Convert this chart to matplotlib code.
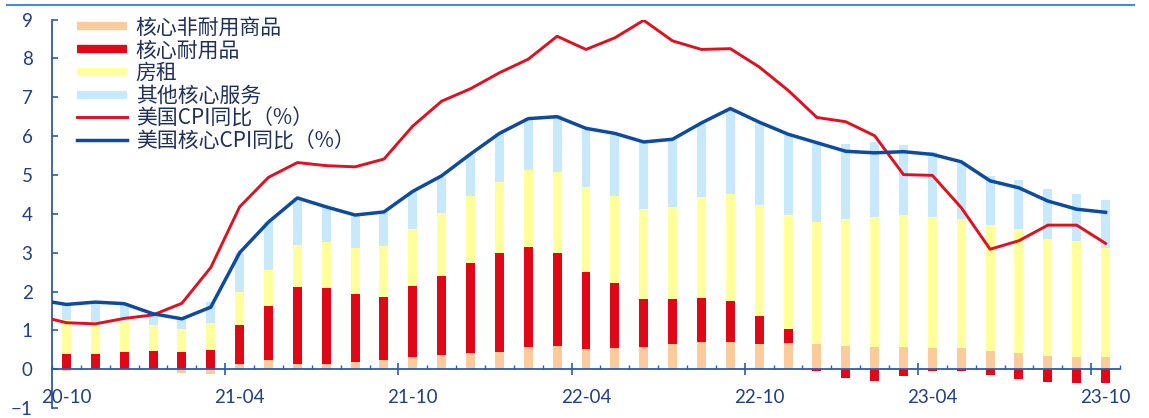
import numpy as np
import matplotlib
matplotlib.use("Agg")
import matplotlib.pyplot as plt
from matplotlib.lines import Line2D

# Month labels (first entry is the month before the first bar, used only by the lines)
months = ["20-09", "20-10", "20-11", "20-12", "21-01", "21-02", "21-03", "21-04",
          "21-05", "21-06", "21-07", "21-08", "21-09", "21-10", "21-11", "21-12",
          "22-01", "22-02", "22-03", "22-04", "22-05", "22-06", "22-07", "22-08",
          "22-09", "22-10", "22-11", "22-12", "23-01", "23-02", "23-03", "23-04",
          "23-05", "23-06", "23-07", "23-08", "23-09", "23-10"]

# Contributions to core CPI YoY (percentage points), 20-10 .. 23-10
nondurable = [-0.05, 0.00, 0.00, 0.00, -0.09, -0.11, 0.13, 0.24, 0.15, 0.15,
              0.18, 0.24, 0.31, 0.37, 0.43, 0.45, 0.58, 0.61, 0.53, 0.56,
              0.57, 0.64, 0.70, 0.70, 0.64, 0.68, 0.65, 0.60, 0.57, 0.57,
              0.55, 0.55, 0.47, 0.43, 0.34, 0.32, 0.32]
durable = [0.40, 0.40, 0.45, 0.46, 0.44, 0.49, 1.00, 1.39, 1.97, 1.95,
           1.76, 1.62, 1.84, 2.04, 2.31, 2.55, 2.57, 2.39, 1.98, 1.65,
           1.23, 1.16, 1.14, 1.06, 0.73, 0.35, -0.03, -0.22, -0.29, -0.16,
           -0.03, -0.03, -0.15, -0.26, -0.32, -0.34, -0.34]
rent = [0.86, 0.83, 0.79, 0.67, 0.61, 0.71, 0.87, 0.92, 1.08, 1.18,
        1.19, 1.31, 1.46, 1.62, 1.72, 1.82, 1.99, 2.08, 2.17, 2.25,
        2.33, 2.38, 2.60, 2.76, 2.87, 2.93, 3.13, 3.27, 3.35, 3.40,
        3.37, 3.32, 3.25, 3.18, 3.01, 2.99, 2.81]
other_services = [0.44, 0.46, 0.41, 0.30, 0.25, 0.53, 1.00, 1.23, 1.20, 0.90,
                  0.84, 0.88, 0.96, 0.92, 1.05, 1.25, 1.33, 1.46, 1.49, 1.56,
                  1.72, 1.71, 1.88, 2.15, 2.10, 2.06, 2.03, 1.92, 1.93, 1.80,
                  1.68, 1.44, 1.25, 1.27, 1.29, 1.19, 1.23]

# Headline and core CPI YoY (%), 20-09 .. 23-10
cpi = [1.38, 1.20, 1.17, 1.31, 1.40, 1.70, 2.62, 4.18, 4.94, 5.32,
       5.24, 5.21, 5.41, 6.26, 6.90, 7.22, 7.63, 7.98, 8.57, 8.23,
       8.53, 8.98, 8.45, 8.23, 8.25, 7.78, 7.18, 6.48, 6.37, 6.01,
       5.01, 4.99, 4.16, 3.09, 3.31, 3.71, 3.71, 3.24]
core_cpi = [1.79, 1.67, 1.73, 1.69, 1.43, 1.30, 1.60, 3.00, 3.79, 4.41,
            4.18, 3.97, 4.05, 4.58, 4.98, 5.54, 6.07, 6.45, 6.50, 6.20,
            6.07, 5.85, 5.92, 6.34, 6.71, 6.36, 6.05, 5.83, 5.61, 5.57,
            5.60, 5.53, 5.34, 4.85, 4.67, 4.33, 4.12, 4.04]

labels = ["核心非耐用商品", "核心耐用品", "房租", "其他核心服务",
          "美国CPI同比（%）", "美国核心CPI同比（%）"]

C_ORANGE = "#FBCB9B"
C_RED = "#E00816"
C_YELLOW = "#FFFF9C"
C_BLUE_LT = "#C8E8FB"
C_LINE_RED = "#E2101E"
C_LINE_BLUE = "#0D4BA0"
C_AXIS = "#2F5AA8"
C_TEXT = "#1F3F86"

fig = plt.figure(figsize=(11.49, 4.18), dpi=100)
ax = fig.add_axes([0.04526, 0.0234, 0.9295, 0.9299])

n = len(nondurable)
x_bar = np.arange(n)
pos_base = np.zeros(n)
neg_base = np.zeros(n)
for vals, color in zip([nondurable, durable, rent, other_services],
                       [C_ORANGE, C_RED, C_YELLOW, C_BLUE_LT]):
    v = np.asarray(vals, dtype=float)
    bottom = np.where(v >= 0, pos_base, neg_base)
    ax.bar(x_bar, v, width=0.31, bottom=bottom, color=color, linewidth=0, zorder=2)
    pos_base += np.clip(v, 0, None)
    neg_base += np.clip(v, None, 0)

x_line = np.arange(-1, n)
ax.plot(x_line, cpi, color=C_LINE_RED, lw=2.1, zorder=3, solid_joinstyle="round")
ax.plot(x_line, core_cpi, color=C_LINE_BLUE, lw=2.5, zorder=4, solid_joinstyle="round")

ax.set_xlim(-0.5, n - 0.5)
ax.set_ylim(-1, 9)

for s in ["top", "right"]:
    ax.spines[s].set_visible(False)
ax.spines["bottom"].set_position(("data", 0))
ax.spines["bottom"].set_color(C_AXIS)
ax.spines["bottom"].set_linewidth(1.3)
ax.spines["left"].set_color(C_AXIS)
ax.spines["left"].set_linewidth(1.3)
ax.spines["left"].set_bounds(-1, 9)

# category axis: long marks every 6 months, short marks between bars
ax.set_xticks(np.arange(5.5, n, 6))
ax.set_xticks(np.arange(-0.5, n + 0.5, 1), minor=True)
ax.tick_params(axis="x", which="major", direction="inout", length=8, width=1.2,
               color=C_AXIS, labelbottom=False)
ax.tick_params(axis="x", which="minor", direction="in", length=3.2, width=1.0,
               color=C_AXIS, labelbottom=False)

ax.set_yticks(np.arange(-1, 10, 1))
ax.tick_params(axis="y", direction="in", length=4.5, width=1.2, color=C_AXIS,
               pad=14, labelsize=13.5, labelcolor=C_TEXT)
for t in ax.get_yticklabels():
    t.set_fontfamily("Lato")

for i in range(1, len(months), 6):
    ax.text(x_line[i], -0.72, months[i], ha="center", va="center",
            fontsize=13.5, color=C_TEXT, family="Lato")

handles = [
    Line2D([], [], color=C_ORANGE, lw=6, solid_capstyle="butt"),
    Line2D([], [], color=C_RED, lw=6, solid_capstyle="butt"),
    Line2D([], [], color=C_YELLOW, lw=6, solid_capstyle="butt"),
    Line2D([], [], color=C_BLUE_LT, lw=6, solid_capstyle="butt"),
    Line2D([], [], color=C_LINE_RED, lw=2.1),
    Line2D([], [], color=C_LINE_BLUE, lw=2.5),
]
leg = ax.legend(handles, labels, loc="upper left", bbox_to_anchor=(0.0234, 1.008),
                frameon=False, borderpad=0, borderaxespad=0, handlelength=2.4,
                handletextpad=0.42, labelspacing=0.04,
                prop={"family": ["Noto Sans CJK SC", "DejaVu Sans"], "size": 15})
for t in leg.get_texts():
    t.set_color("#1E2F5C")

fig.add_artist(Line2D([7 / 1149, 1134 / 1149], [1 - 5 / 418, 1 - 5 / 418],
                      transform=fig.transFigure, color="#3D8FDC", lw=1.5))

fig.savefig("out.png", dpi=100)
